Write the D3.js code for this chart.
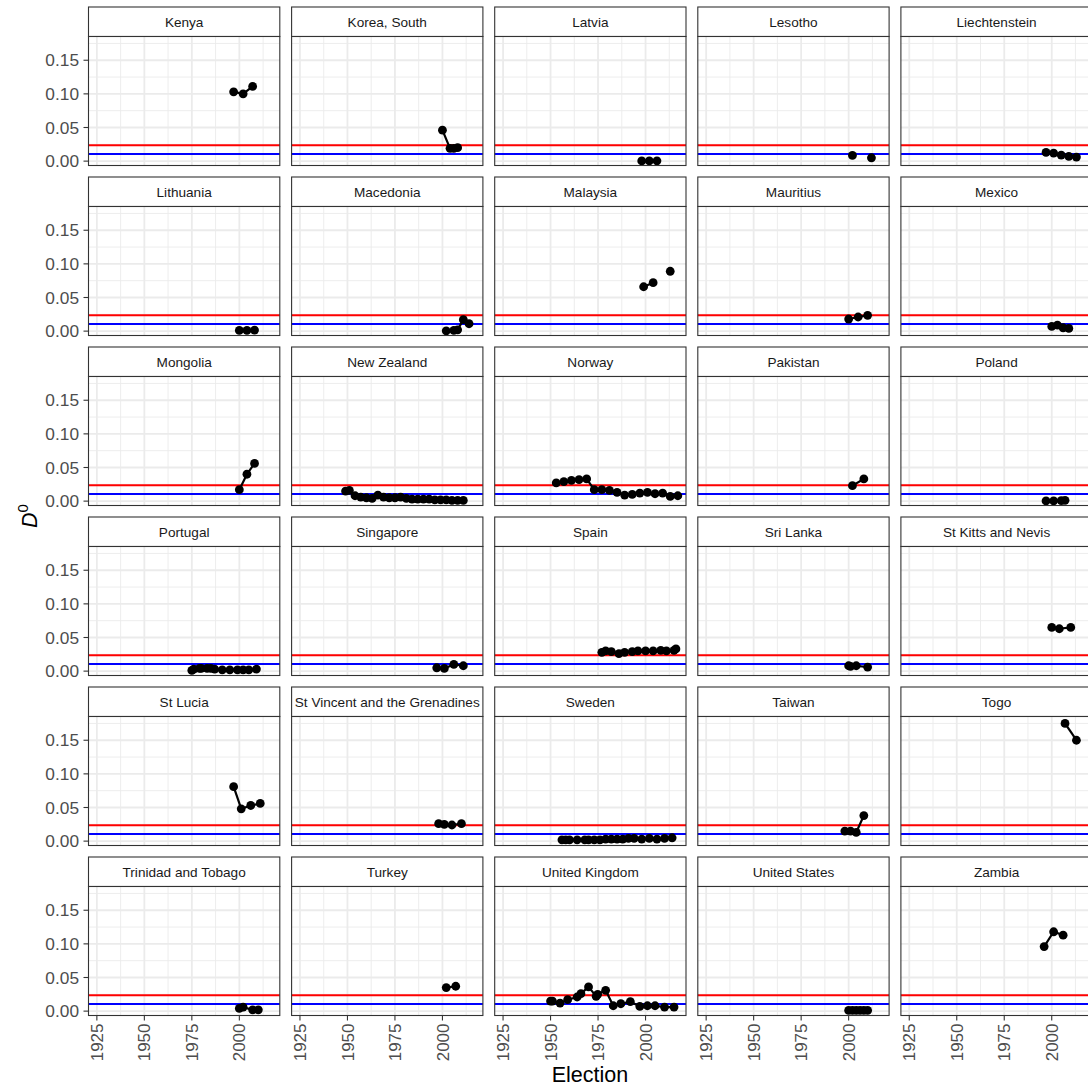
<!DOCTYPE html>
<html>
<head>
<meta charset="utf-8">
<script src="https://cdn.jsdelivr.net/npm/d3@7"></script>
<style>
body { margin: 0; background: #fff; }
svg { display: block; font-family: "Liberation Sans", Arial, sans-serif; }
</style>
</head>
<body>
<script>
'use strict';

// facet names, in panel order
const countries = [
  "Kenya", "Korea, South", "Latvia", "Lesotho", "Liechtenstein",
  "Lithuania", "Macedonia", "Malaysia", "Mauritius", "Mexico",
  "Mongolia", "New Zealand", "Norway", "Pakistan", "Poland",
  "Portugal", "Singapore", "Spain", "Sri Lanka", "St Kitts and Nevis",
  "St Lucia", "St Vincent and the Grenadines", "Sweden", "Taiwan", "Togo",
  "Trinidad and Tobago", "Turkey", "United Kingdom", "United States", "Zambia"
];

// election years per country (same order as countries)
const electionYears = [
  [1997, 2002, 2007],
  [2000, 2004, 2006, 2008],
  [1998, 2002, 2006],
  [2002, 2007, 2012],
  [1997, 2001, 2005, 2009, 2013],
  [2000, 2004, 2008],
  [2002, 2006, 2008, 2011, 2014],
  [1999, 2004, 2008, 2013],
  [2000, 2005, 2010],
  [2000, 2003, 2006, 2009],
  [2000, 2004, 2008],
  [1949, 1951, 1954, 1957, 1960, 1963, 1966, 1969, 1972, 1975, 1978, 1981, 1984, 1987, 1990, 1993, 1996, 1999, 2002, 2005, 2008, 2011],
  [1953, 1957, 1961, 1965, 1969, 1973, 1977, 1981, 1985, 1989, 1993, 1997, 2001, 2005, 2009, 2013, 2017],
  [2002, 2008],
  [1997, 2001, 2005, 2007],
  [1975, 1976, 1979, 1980, 1983, 1985, 1987, 1991, 1995, 1999, 2002, 2005, 2009],
  [1997, 2001, 2006, 2011],
  [1977, 1979, 1982, 1986, 1989, 1993, 1996, 2000, 2004, 2008, 2011, 2015, 2016],
  [2000, 2001, 2004, 2010],
  [2000, 2004, 2010],
  [1997, 2001, 2006, 2011],
  [1998, 2001, 2005, 2010],
  [1956, 1958, 1960, 1964, 1968, 1970, 1973, 1976, 1979, 1982, 1985, 1988, 1991, 1994, 1998, 2002, 2006, 2010, 2014],
  [1998, 2001, 2004, 2008],
  [2007, 2013],
  [2000, 2002, 2007, 2010],
  [2002, 2007],
  [1950, 1951, 1955, 1959, 1964, 1966, 1970, 1974, 1974.8, 1979, 1983, 1987, 1992, 1997, 2001, 2005, 2010, 2015],
  [2000, 2002, 2004, 2006, 2008, 2010],
  [1996, 2001, 2006]
];

// D0 values per country (null = missing election)
const d0Values = [
  [0.103, 0.100, 0.111],
  [0.046, 0.019, 0.019, 0.020],
  [0.0003, 0.0004, 0.0004],
  [0.0085, null, 0.005],
  [0.013, 0.012, 0.009, 0.007, 0.006],
  [0.001, 0.001, 0.0015],
  [0.0005, 0.001, 0.002, 0.017, 0.011],
  [0.066, 0.072, null, 0.089],
  [0.018, 0.021, 0.0235],
  [0.007, 0.009, 0.005, 0.004],
  [0.017, 0.040, 0.056],
  [0.015, 0.016, 0.008, 0.006, 0.005, 0.004, 0.009, 0.006, 0.005, 0.005, 0.006, 0.004, 0.003, 0.003, 0.003, 0.003, 0.002, 0.002, 0.002, 0.001, 0.001, 0.001],
  [0.027, 0.029, 0.031, 0.032, 0.033, 0.017, 0.017, 0.016, 0.013, 0.009, 0.010, 0.012, 0.013, 0.011, 0.012, 0.007, 0.008],
  [0.023, 0.033],
  [0.0003, 0.0005, 0.0008, 0.0012],
  [0.001, 0.003, 0.004, 0.004, 0.004, 0.004, 0.003, 0.002, 0.002, 0.002, 0.002, 0.002, 0.003],
  [0.005, 0.004, 0.010, 0.008],
  [0.028, 0.030, 0.029, 0.026, 0.028, 0.029, 0.030, 0.030, 0.030, 0.031, 0.030, 0.031, 0.033],
  [0.008, 0.007, 0.008, 0.006],
  [0.065, 0.063, 0.065],
  [0.081, 0.048, 0.053, 0.056],
  [0.026, 0.025, 0.024, 0.026],
  [0.002, 0.002, 0.002, 0.002, 0.002, 0.002, 0.002, 0.002, 0.003, 0.003, 0.003, 0.003, 0.004, 0.004, 0.003, 0.004, 0.003, 0.004, 0.005],
  [0.015, 0.015, 0.013, 0.038],
  [0.175, 0.150],
  [0.004, 0.006, 0.002, 0.002],
  [0.035, 0.037],
  [0.015, 0.015, 0.012, 0.017, 0.021, 0.026, 0.036, 0.022, 0.025, 0.031, 0.008, 0.011, 0.014, 0.007, 0.008, 0.008, 0.006, 0.006],
  [0.001, 0.001, 0.001, 0.001, 0.001, 0.001],
  [0.096, 0.118, 0.113]
];

const xTicks = [1925, 1950, 1975, 2000];
const xMinor = [1937.5, 1962.5, 1987.5, 2012.5];
const yTicks = [0, 0.05, 0.10, 0.15];
const yMinor = [0.025, 0.075, 0.125, 0.175];
const redLevel = 0.0235;
const blueLevel = 0.0105;

const width = 1088;
const height = 1088;
const nCols = 5;
const colLeft = 88.5, colStep = 203.1, pw = 191.3;
const rowTop = 7, rowStep = 170, stripH = 29.5, ph = 129;

let x = d3.scaleLinear().domain([1920.6, 2021.3]).range([0, pw]);
let y = d3.scaleLinear().domain([-0.0065, 0.1853]).range([ph, 0]);

let svg = d3.select('body').append('svg')
    .attr('width', width)
    .attr('height', height);

let line = d3.line()
    .defined(d => d.v !== null)
    .x(d => x(d.year))
    .y(d => y(d.v));

const nRows = Math.ceil(countries.length / nCols);

countries.forEach(function (name, i) {
    let col = i % nCols, row = Math.floor(i / nCols);
    let left = colLeft + col * colStep;
    let top = rowTop + row * rowStep;
    let pts = electionYears[i].map((yr, j) => ({ year: yr, v: d0Values[i][j] }));

    // strip
    let strip = svg.append('g').attr('transform', `translate(${left},${top})`);
    strip.append('rect')
        .attr('width', pw).attr('height', stripH)
        .attr('fill', '#fff').attr('stroke', '#333').attr('stroke-width', 1.1);
    strip.append('text')
        .attr('x', pw / 2).attr('y', stripH / 2)
        .attr('dy', '0.35em')
        .attr('text-anchor', 'middle')
        .attr('font-size', 13.6)
        .attr('fill', '#1a1a1a')
        .text(name);

    let g = svg.append('g').attr('transform', `translate(${left},${top + stripH})`);
    g.append('rect').attr('width', pw).attr('height', ph).attr('fill', '#fff');

    // grid
    g.selectAll('.xmin').data(xMinor).enter().append('line')
        .attr('x1', d => x(d)).attr('x2', d => x(d)).attr('y1', 0).attr('y2', ph)
        .attr('stroke', '#ebebeb').attr('stroke-width', 0.9);
    g.selectAll('.ymin').data(yMinor).enter().append('line')
        .attr('x1', 0).attr('x2', pw).attr('y1', d => y(d)).attr('y2', d => y(d))
        .attr('stroke', '#ebebeb').attr('stroke-width', 0.9);
    g.selectAll('.xmaj').data(xTicks).enter().append('line')
        .attr('x1', d => x(d)).attr('x2', d => x(d)).attr('y1', 0).attr('y2', ph)
        .attr('stroke', '#ebebeb').attr('stroke-width', 1.8);
    g.selectAll('.ymaj').data(yTicks).enter().append('line')
        .attr('x1', 0).attr('x2', pw).attr('y1', d => y(d)).attr('y2', d => y(d))
        .attr('stroke', '#ebebeb').attr('stroke-width', 1.8);

    // reference lines
    g.append('line')
        .attr('x1', 0).attr('x2', pw).attr('y1', y(redLevel)).attr('y2', y(redLevel))
        .attr('stroke', '#ff0000').attr('stroke-width', 2);
    g.append('line')
        .attr('x1', 0).attr('x2', pw).attr('y1', y(blueLevel)).attr('y2', y(blueLevel))
        .attr('stroke', '#0000ff').attr('stroke-width', 2);

    // series
    g.append('path')
        .attr('d', line(pts))
        .attr('fill', 'none').attr('stroke', '#000').attr('stroke-width', 2.2);
    g.selectAll('circle').data(pts.filter(d => d.v !== null)).enter().append('circle')
        .attr('cx', d => x(d.year)).attr('cy', d => y(d.v)).attr('r', 4.4)
        .attr('fill', '#000');

    g.append('rect').attr('width', pw).attr('height', ph)
        .attr('fill', 'none').attr('stroke', '#333').attr('stroke-width', 1.1);

    // y axis on first column
    if (col === 0) {
        let ya = g.append('g');
        ya.selectAll('line').data(yTicks).enter().append('line')
            .attr('x1', -5).attr('x2', 0).attr('y1', d => y(d)).attr('y2', d => y(d))
            .attr('stroke', '#333').attr('stroke-width', 1.1);
        ya.selectAll('text').data(yTicks).enter().append('text')
            .attr('x', -9.5).attr('y', d => y(d)).attr('dy', '0.36em')
            .attr('text-anchor', 'end').attr('font-size', 17.3).attr('fill', '#4d4d4d')
            .text(d => d3.format('.2f')(d));
    }

    // x axis on bottom row
    if (row === nRows - 1) {
        let xa = g.append('g');
        xa.selectAll('line').data(xTicks).enter().append('line')
            .attr('x1', d => x(d)).attr('x2', d => x(d)).attr('y1', ph).attr('y2', ph + 5)
            .attr('stroke', '#333').attr('stroke-width', 1.1);
        xa.selectAll('text').data(xTicks).enter().append('text')
            .attr('transform', d => `translate(${x(d)},${ph + 8}) rotate(-90)`)
            .attr('dy', '0.36em')
            .attr('text-anchor', 'end').attr('font-size', 17).attr('fill', '#4d4d4d')
            .text(d => d);
    }
});

// axis titles
svg.append('text')
    .attr('x', 590).attr('y', 1082)
    .attr('text-anchor', 'middle')
    .attr('font-size', 21.5)
    .attr('fill', '#000')
    .text('Election');

let ylab = svg.append('text')
    .attr('transform', 'translate(37,516) rotate(-90)')
    .attr('text-anchor', 'middle')
    .attr('font-size', 21.5)
    .attr('fill', '#000');
ylab.append('tspan').attr('font-style', 'italic').text('D');
ylab.append('tspan').attr('font-size', 15).attr('dy', -9).text('0');

</script>
</body>
</html>
